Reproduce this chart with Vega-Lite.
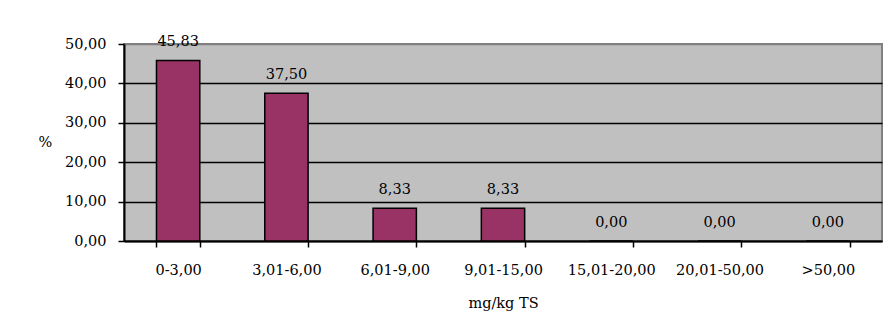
{
  "$schema": "https://vega.github.io/schema/vega-lite/v6.json",
  "width": 758,
  "height": 197,
  "autosize": {"type": "none"},
  "padding": {"left": 124, "top": 44, "right": 8, "bottom": 95},
  "background": "white",
  "data": {
    "values": [
      {"klasse": "0-3,00", "prozent": 45.83},
      {"klasse": "3,01-6,00", "prozent": 37.5},
      {"klasse": "6,01-9,00", "prozent": 8.33},
      {"klasse": "9,01-15,00", "prozent": 8.33},
      {"klasse": "15,01-20,00", "prozent": 0},
      {"klasse": "20,01-50,00", "prozent": 0},
      {"klasse": ">50,00", "prozent": 0}
    ]
  },
  "encoding": {
    "x": {
      "field": "klasse",
      "type": "nominal",
      "sort": null,
      "scale": {"paddingInner": 0.6, "paddingOuter": 0.3},
      "axis": {
        "title": "mg/kg TS",
        "labelAngle": 0,
        "labelPadding": 16,
        "tickBand": "extent",
        "tickSize": 6,
        "titleX": 379,
        "titleY": 62,
        "titleBaseline": "middle"
      }
    },
    "y": {
      "field": "prozent",
      "type": "quantitative",
      "scale": {"domain": [0, 50], "nice": false},
      "axis": {
        "title": "%",
        "values": [0, 10, 20, 30, 40, 50],
        "format": ".2f",
        "grid": true,
        "gridColor": {"condition": {"test": "datum.value >= 50", "value": "#808080"}, "value": "black"},
        "gridWidth": 1.4,
        "gridOpacity": 1,
        "tickSize": 6,
        "labelPadding": 12,
        "titleAngle": 0,
        "titleAlign": "center",
        "titleBaseline": "middle",
        "titleX": -79,
        "titleY": 98.5
      }
    }
  },
  "layer": [
    {
      "mark": {"type": "bar", "color": "#993366", "stroke": "black", "strokeWidth": 1.5}
    },
    {
      "mark": {"type": "text", "baseline": "alphabetic", "dy": -14, "font": "DejaVu Serif", "fontSize": 14.5, "color": "black"},
      "encoding": {"text": {"field": "prozent", "type": "quantitative", "format": ".2f"}}
    }
  ],
  "config": {
    "locale": {"number": {"decimal": ",", "thousands": ".", "grouping": [3], "currency": ["", " €"]}},
    "view": {"fill": "#C0C0C0", "stroke": "#808080", "strokeWidth": 2},
    "axis": {
      "domainColor": "black",
      "domainWidth": 2,
      "tickColor": "black",
      "tickWidth": 1.5,
      "labelFont": "DejaVu Serif",
      "labelFontSize": 14.5,
      "labelColor": "black",
      "titleFont": "DejaVu Serif",
      "titleFontSize": 14.5,
      "titleFontWeight": "normal",
      "titleColor": "black"
    }
  }
}
